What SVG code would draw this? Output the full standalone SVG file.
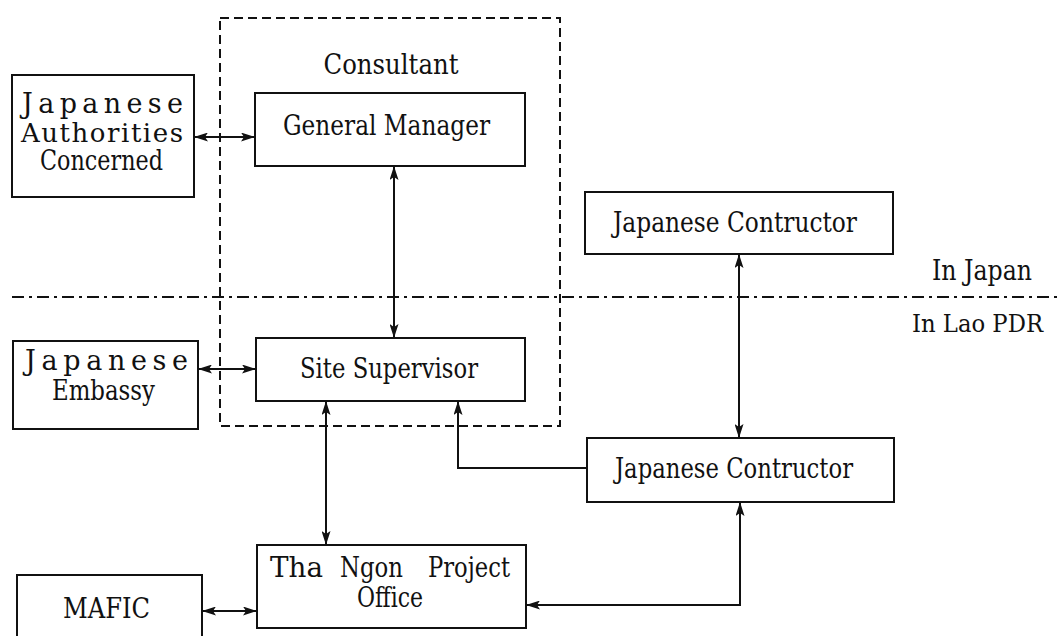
<svg xmlns="http://www.w3.org/2000/svg" width="1062" height="636" viewBox="0 0 1062 636">
<defs>
<style>
.box{fill:#fff;stroke:#111;stroke-width:2}
.t{font-family:"DejaVu Serif","Liberation Serif",serif;font-size:27px;fill:#111}
.c{fill:none;stroke:#111;stroke-width:2}
</style>
<marker id="ah" viewBox="0 0 14 9" refX="13" refY="4.5" markerWidth="14" markerHeight="9" markerUnits="userSpaceOnUse" orient="auto-start-reverse">
<path d="M0,0 L14,4.5 L0,9 L3,4.5 z" fill="#111"/>
</marker>
</defs>
<rect width="1062" height="636" fill="#fff"/>
<g id="boundaries">
<rect x="220" y="18" width="340" height="408" fill="none" stroke="#111" stroke-width="2" stroke-dasharray="9 5"/>
<path d="M12,297 H1062" fill="none" stroke="#111" stroke-width="2" stroke-dasharray="12 5 3 5"/>
<text class="t" x="391" y="74" text-anchor="middle" textLength="135" lengthAdjust="spacingAndGlyphs">Consultant</text>
<text class="t" x="932" y="280" textLength="100" lengthAdjust="spacingAndGlyphs">In Japan</text>
<text class="t" x="912" y="332" style="font-size:25px" textLength="131" lengthAdjust="spacingAndGlyphs">In Lao PDR</text>
</g>
<g id="authorities">
<rect class="box" x="12" y="75" width="182" height="122"/>
<text class="t" x="22" y="113" textLength="161" lengthAdjust="spacing">Japanese</text>
<text class="t" x="21" y="142" style="font-size:26px" textLength="162" lengthAdjust="spacing">Authorities</text>
<text class="t" x="40" y="170" textLength="123" lengthAdjust="spacingAndGlyphs">Concerned</text>
</g>
<g id="general-manager">
<rect class="box" x="255" y="93" width="270" height="73"/>
<text class="t" x="283" y="135" textLength="207" lengthAdjust="spacingAndGlyphs">General Manager</text>
</g>
<g id="embassy">
<rect class="box" x="13" y="341" width="185" height="88"/>
<text class="t" x="25" y="370" textLength="163" lengthAdjust="spacing">Japanese</text>
<text class="t" x="52" y="400" textLength="103" lengthAdjust="spacingAndGlyphs">Embassy</text>
</g>
<g id="site-supervisor">
<rect class="box" x="256" y="338" width="269" height="63"/>
<text class="t" x="300" y="378" textLength="178" lengthAdjust="spacingAndGlyphs">Site Supervisor</text>
</g>
<g id="contractor-japan">
<rect class="box" x="585" y="192" width="308" height="62"/>
<text class="t" x="613" y="232" textLength="244" lengthAdjust="spacingAndGlyphs">Japanese Contructor</text>
</g>
<g id="contractor-lao">
<rect class="box" x="587" y="438" width="307" height="64"/>
<text class="t" x="615" y="478" textLength="238" lengthAdjust="spacingAndGlyphs">Japanese Contructor</text>
</g>
<g id="tha-ngon">
<rect class="box" x="257" y="545" width="269" height="83"/>
<text class="t" y="577"><tspan x="270" textLength="53" lengthAdjust="spacingAndGlyphs">Tha</tspan><tspan x="340" textLength="63" lengthAdjust="spacingAndGlyphs">Ngon</tspan><tspan x="428" textLength="82" lengthAdjust="spacingAndGlyphs">Project</tspan></text>
<text class="t" x="357" y="607" textLength="66" lengthAdjust="spacingAndGlyphs">Office</text>
</g>
<g id="mafic">
<rect class="box" x="17" y="575" width="185" height="70"/>
<text class="t" x="63" y="618" textLength="87" lengthAdjust="spacingAndGlyphs">MAFIC</text>
</g>
<g id="connectors">
<path class="c" d="M195,137 H254" marker-start="url(#ah)" marker-end="url(#ah)"/>
<path class="c" d="M199,369 H255" marker-start="url(#ah)" marker-end="url(#ah)"/>
<path class="c" d="M203,611 H256" marker-start="url(#ah)" marker-end="url(#ah)"/>
<path class="c" d="M394,167 V337" marker-start="url(#ah)" marker-end="url(#ah)"/>
<path class="c" d="M326,402 V544" marker-start="url(#ah)" marker-end="url(#ah)"/>
<path class="c" d="M587,468 H458 V402" marker-end="url(#ah)"/>
<path class="c" d="M739,255 V437" marker-start="url(#ah)" marker-end="url(#ah)"/>
<path class="c" d="M740,503 V605 H527" marker-start="url(#ah)" marker-end="url(#ah)"/>
</g>
</svg>
